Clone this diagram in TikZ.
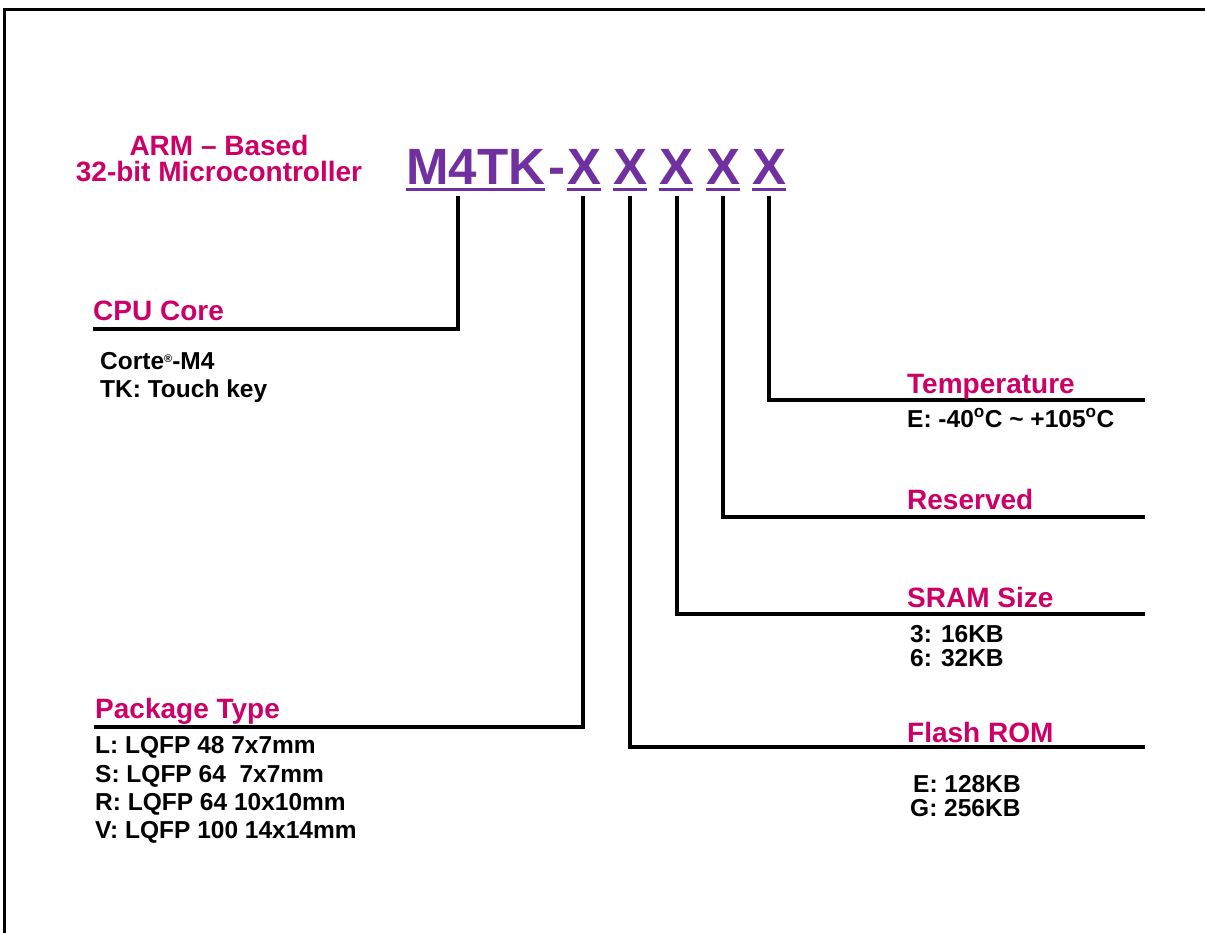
\documentclass[tikz,border=0pt]{standalone}
\usepackage{fontspec}
\setmainfont{Liberation Sans}
\definecolor{pur}{RGB}{112,48,160}
\definecolor{mag}{RGB}{204,0,102}
\begin{document}
\begin{tikzpicture}[x=1pt,y=-1pt,
  head/.style={anchor=base west,inner sep=0pt,font=\fontsize{28}{30}\selectfont\bfseries,text=mag},
  title/.style={anchor=base,inner sep=0pt,font=\fontsize{28}{30}\selectfont\bfseries,text=mag},
  body/.style={anchor=base west,inner sep=0pt,font=\fontsize{24.5}{28}\selectfont\bfseries},
  big/.style={anchor=base west,inner sep=0pt,font=\fontsize{51}{52}\selectfont\bfseries,text=pur},
  uline/.style={pur,line width=3pt},
  lead/.style={line width=4pt,line join=miter},
  frame/.style={line width=3pt,line join=miter}]
\useasboundingbox (0,0) rectangle (1205,933);
\coordinate (fa) at (4,933);
\coordinate (fb) at (4,10);
\coordinate (fc) at (1205,10);
\draw[frame] (fa) -- (fb) -- (fc);

% title
\node[title] (t1) at (219,156) {ARM – Based};
\node[title] (t2) at (219,182) {32-bit Microcontroller};

% part number
\node[big] (m) at (406,185) {M4TK};
\node[big] (d) at (548,185) {-};
\node[big] (x1) at (567,185) {X};
\node[big] (x2) at (613,185) {X};
\node[big] (x3) at (659,185) {X};
\node[big] (x4) at (706,185) {X};
\node[big] (x5) at (752,185) {X};
\foreach \n in {m,x1,x2,x3,x4,x5}
  \draw[uline] ([yshift=-5pt]\n.base west) -- ([yshift=-5pt]\n.base east);

% leads
\coordinate (s0) at (458,196); \coordinate (e0) at (93,329);
\coordinate (s1) at (583,196); \coordinate (e1) at (94,727);
\coordinate (s2) at (630,196); \coordinate (e2) at (1145,747);
\coordinate (s3) at (677,196); \coordinate (e3) at (1145,614);
\coordinate (s4) at (723,196); \coordinate (e4) at (1145,517);
\coordinate (s5) at (769,196); \coordinate (e5) at (1145,400);
\foreach \i in {0,...,5}
  \draw[lead] (s\i) |- (e\i);

% CPU core
\node[head] (h0) at (93,320) {CPU Core};
\node[body] (b01) at (100,369) {Corte{\fontsize{11}{11}\selectfont\raisebox{6pt}{\textregistered}}-M4};
\node[body] (b02) at (100,397) {TK: Touch key};

% Temperature
\node[head] (h5) at (907,393) {Temperature};
\node[body] (b51) at (907,427) {E: -40\textsuperscript{o}C \textasciitilde{} +105\textsuperscript{o}C};

% Reserved
\node[head] (h4) at (907,509) {Reserved};

% SRAM
\node[head] (h3) at (907,607) {SRAM Size};
\node[body] (b31) at (910,642) {3: 16KB};
\node[body] (b32) at (910,666) {6: 32KB};

% Flash
\node[head] (h2) at (907,742) {Flash ROM};
\node[body] (b21) at (913,792) {E: 128KB};
\node[body] (b22) at (910,816) {G: 256KB};

% Package
\node[head] (h1) at (95,718) {Package Type};
\node[body] (b11) at (95,753) {L: LQFP 48 7x7mm};
\node[body] (b12) at (95,782) {S: LQFP 64~ 7x7mm};
\node[body] (b13) at (95,810) {R: LQFP 64 10x10mm};
\node[body] (b14) at (95,838) {V: LQFP 100 14x14mm};
\end{tikzpicture}
\end{document}
